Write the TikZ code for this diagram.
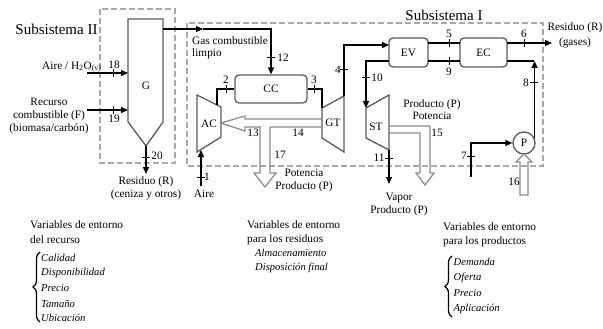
\documentclass[tikz,border=0pt]{standalone}
\usepackage{fontspec}
\setmainfont{Liberation Serif}
\usetikzlibrary{arrows.meta,calc,decorations.pathreplacing}
\definecolor{eqgray}{HTML}{5A5A5A}
\definecolor{hgray}{HTML}{8A8A8A}
\definecolor{dgray}{HTML}{A8A8A8}
\begin{document}
\begin{tikzpicture}[x=1pt,y=-1pt,
  lbl/.style={font=\fontsize{11.3}{13}\selectfont, inner sep=0pt},
  big/.style={font=\fontsize{15}{17}\selectfont, inner sep=0pt},
  hdr/.style={font=\fontsize{11.3}{15}\selectfont, inner sep=0pt, anchor=west, align=left},
  itm/.style={font=\fontsize{10.6}{12}\selectfont\itshape, inner sep=0pt, anchor=west},
  equip/.style={draw=eqgray, line width=1.3pt, line join=miter},
  box/.style={equip, rounded corners=4pt, font=\fontsize{11.3}{13}\selectfont, inner sep=0pt},
  flow/.style={black, line width=1.4pt},
  arr/.style={flow, -{Triangle[length=7pt,width=6pt]}},
  hollow/.style={draw=hgray, line width=1.2pt, line join=miter},
  sub/.style={draw=dgray, line width=1.5pt, dash pattern=on 6pt off 3pt},
  tk/.style={black, line width=1pt},
  vtick/.pic={\draw[tk] (0,-4) -- (0,4);},
  htick/.pic={\draw[tk] (-4,0) -- (4,0);},
  brc/.style={decorate, decoration={brace, amplitude=7pt}, line width=1.2pt, black},
]
\useasboundingbox (0,0) rectangle (603,329);

% subsystem frames
\draw[sub] (100,9) rectangle (175,163);
\draw[sub] (187,23) rectangle (543,166);
\node[big] (s2) at (56.5,29) {Subsistema II};
\node[big] (s1) at (444,15) {Subsistema I};

% gasifier G
\coordinate (Gtl) at (128,19); \coordinate (Gtr) at (163,19);
\coordinate (Gbr) at (163,122); \coordinate (Gtip) at (146,146); \coordinate (Gbl) at (128,122);
\draw[equip] (Gtl) -- (Gtr) -- (Gbr) -- (Gtip) -- (Gbl) -- cycle;
\node[lbl] (G) at (146,86) {G};

% compressor AC
\coordinate (ACtl) at (197,95); \coordinate (ACtr) at (221,107);
\coordinate (ACbr) at (221,137); \coordinate (ACbl) at (197,152);
\draw[equip] (ACtl) -- (ACtr) -- (ACbr) -- (ACbl) -- cycle;
\node[lbl] (AC) at (209,124) {AC};

% gas turbine GT
\coordinate (GTtl) at (322,108); \coordinate (GTtr) at (344,96);
\coordinate (GTbr) at (344,152); \coordinate (GTbl) at (322,138);
\draw[equip] (GTtl) -- (GTtr) -- (GTbr) -- (GTbl) -- cycle;

% steam turbine ST
\coordinate (STtl) at (366,108); \coordinate (STtr) at (389,95);
\coordinate (STbr) at (389,150); \coordinate (STbl) at (366,138);
\draw[equip] (STtl) -- (STtr) -- (STbr) -- (STbl) -- cycle;
\node[lbl] (ST) at (376,127) {ST};

% boxes
\node[box, minimum width=72pt, minimum height=28pt] (CC) at (271,89) {CC};
\node[box, minimum width=39pt, minimum height=29pt] (EV) at (408.5,52.5) {EV};
\node[box, minimum width=47pt, minimum height=29pt] (EC) at (483.5,52.5) {EC};
\node[equip, circle, minimum size=22pt, inner sep=0pt, font=\fontsize{11.3}{13}\selectfont] (P) at (524,143) {P};

% hollow power arrows
\draw[hollow] (322,119) -- (245,119) -- (245,116) -- (221,123) -- (245,131) -- (245,127)
  -- (260,127) -- (260,173) -- (254,173) -- (265,187) -- (276,173) -- (270,173) -- (270,127) -- (322,127);
\node[lbl, fill=white, inner sep=0.5pt] (GT) at (333,123) {GT};
\draw[hollow] (389,126) -- (430,126) -- (430,173) -- (434,173) -- (425,185) -- (416,173)
  -- (420,173) -- (420,133) -- (389,133);
\draw[hollow] (520,195) -- (520,162) -- (516,162) -- (524,154) -- (532,162) -- (528,162) -- (528,195) -- cycle;

% stream 18, 19
\coordinate (a18) at (87,73); \coordinate (G18) at (128,73);
\draw[arr] (a18) -- (G18); \pic at (113,73) {vtick};
\node[lbl] (n18) at (114,65) {18};
\node[lbl, anchor=west] (aire18) at (42,67) {Aire / H\textsubscript{2}O\textsubscript{(v)}};
\coordinate (a19) at (87,110); \coordinate (G19) at (128,110);
\draw[arr] (a19) -- (G19); \pic at (113,110) {vtick};
\node[lbl] (n19) at (114,119) {19};
\node[lbl, align=center] (rec) at (49,116) {Recurso\\combustible (F)\\(biomasa/carbón)};

% stream 20
\coordinate (e20) at (146,174);
\draw[arr] (Gtip) -- (e20); \pic at (146,157) {htick};
\node[lbl] (n20) at (157,156) {20};
\node[lbl, align=center] (resc) at (146,188.5) {Residuo (R)\\(ceniza y otros)};

% clean gas 12
\coordinate (Gout) at (163,29); \coordinate (gasm) at (203,29);
\draw[arr] (Gout) -- (gasm);
\draw[arr] (gasm) -| (CC.north);
\pic at (271,58) {htick};
\node[lbl] (n12) at (283,58) {12};
\node[lbl, anchor=west, align=left, font=\fontsize{11.3}{12}\selectfont] (gas) at (192,48) {Gas combustible\\limpio};

% streams 2, 3
\coordinate (AC2) at (217,105);
\draw[flow] (AC2) |- (CC.west); \pic at (226,89) {vtick};
\node[lbl] (n2) at (226,80) {2};
\draw[flow] (CC.east) -| (GTtl); \pic at (314,89) {vtick};
\node[lbl] (n3) at (314,80) {3};

% stream 1
\coordinate (s1a) at (201,186); \coordinate (AC1) at (201,150);
\draw[arr] (s1a) -- (AC1); \pic at (201,177) {htick};
\node[lbl] (n1) at (207,177) {1};
\node[lbl] (aire1) at (204,194) {Aire};

% shaft labels
\node[lbl] (n13) at (253,133) {13};
\node[lbl] (n14) at (298,133) {14};
\node[lbl] (n17) at (280,155) {17};
\node[lbl, align=center] (pot17) at (304,180.5) {Potencia\\Producto (P)};

% stream 4
\coordinate (EV4) at (389,45);
\draw[arr] (GTtr) |- (EV4); \pic at (344,70) {htick};
\node[lbl] (n4) at (338,70) {4};

% stream 10
\coordinate (EV10) at (389,61);
\draw[arr] (EV10) -| (STtl); \pic at (366,78) {htick};
\node[lbl] (n10) at (377,78) {10};

% stream 11
\coordinate (e11) at (389,184);
\draw[arr] (STbr) -- (e11); \pic at (389,158) {htick};
\node[lbl] (n11) at (379,158) {11};
\node[lbl, align=center] (vap) at (399,204.5) {Vapor\\Producto (P)};

% stream 15 labels
\node[lbl, align=center, font=\fontsize{11.3}{12}\selectfont] (pot15) at (432,110) {Producto (P)\\Potencia};
\node[lbl] (n15) at (437,133) {15};

% streams 5, 9
\coordinate (EV5) at (428,43); \coordinate (EC5) at (460,43);
\draw[flow] (EV5) -- (EC5); \pic at (449,43) {vtick};
\node[lbl] (n5) at (449,34) {5};
\coordinate (EV9) at (428,61); \coordinate (EC9) at (460,61);
\draw[flow] (EC9) -- (EV9); \pic at (449,61) {vtick};
\node[lbl] (n9) at (449,72) {9};

% stream 6
\coordinate (EC6) at (507,43); \coordinate (out6) at (552,43);
\draw[arr] (EC6) -- (out6); \pic at (524,43) {vtick};
\node[lbl] (n6) at (524,34) {6};
\node[lbl, align=center, font=\fontsize{11.3}{14.5}\selectfont] (resg) at (575,35.5) {Residuo (R)\\(gases)};

% stream 8
\coordinate (c8) at (534,61); \coordinate (EC8) at (507,61);
\draw[arr] (P.25) -- (P.25 |- c8);
\draw[flow] (c8) -- (EC8);
\pic at (534,83) {htick};
\node[lbl] (n8) at (526,83) {8};

% stream 7
\coordinate (s7) at (471,177);
\draw[arr] (s7) |- (P.west); \pic at (471,156) {htick};
\node[lbl] (n7) at (464,156) {7};
\node[lbl] (n16) at (514,182) {16};

% bottom: resource variables
\node[hdr] (vr1) at (30,224.5) {Variables de entorno};
\node[hdr] (vr2) at (30,239.5) {del recurso};
\coordinate (br1a) at (40,322); \coordinate (br1b) at (40,252);
\draw[brc] (br1a) -- (br1b);
\node[itm] (r1) at (41,258) {Calidad};
\node[itm] (r2) at (41,273) {Disponibilidad};
\node[itm] (r3) at (41,288) {Precio};
\node[itm] (r4) at (41,303.5) {Tamaño};
\node[itm] (r5) at (41,318) {Ubicación};

% bottom: waste variables
\node[hdr] (vw1) at (247,224.5) {Variables de entorno};
\node[hdr] (vw2) at (247,239.5) {para los residuos};
\node[itm] (w1) at (255,253) {Almacenamiento};
\node[itm] (w2) at (255,268) {Disposición final};

% bottom: product variables
\node[hdr] (vp1) at (443,226.5) {Variables de entorno};
\node[hdr] (vp2) at (443,241.5) {para los productos};
\coordinate (br2a) at (452,317); \coordinate (br2b) at (452,256);
\draw[brc] (br2a) -- (br2b);
\node[itm] (p1) at (453.5,262) {Demanda};
\node[itm] (p2) at (453.5,278) {Oferta};
\node[itm] (p3) at (453.5,293) {Precio};
\node[itm] (p4) at (453.5,309) {Aplicación};
\end{tikzpicture}
\end{document}
